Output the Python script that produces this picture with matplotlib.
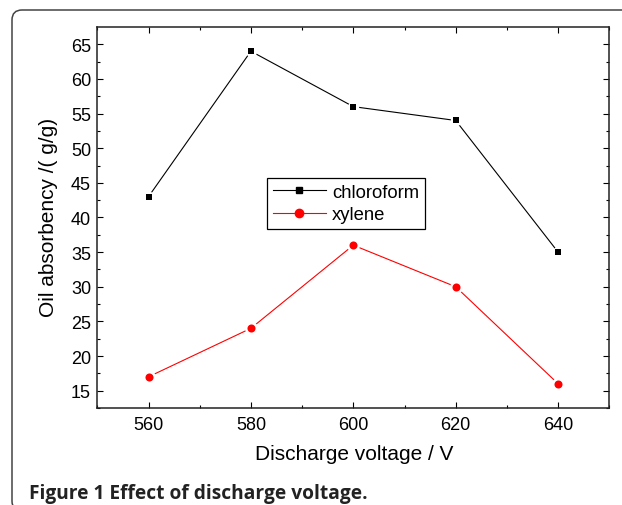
import matplotlib
matplotlib.use("Agg")
import matplotlib.pyplot as plt
from matplotlib.lines import Line2D
from matplotlib.patches import FancyBboxPatch
from matplotlib.transforms import IdentityTransform
from matplotlib.ticker import MultipleLocator

voltage = [560, 580, 600, 620, 640]
chloroform = [43, 64, 56, 54, 35]
xylene = [17, 24, 36, 30, 16]
xticks = [560, 580, 600, 620, 640]
yticks = [15, 20, 25, 30, 35, 40, 45, 50, 55, 60, 65]

plt.rcParams['font.family'] = ['Liberation Sans', 'DejaVu Sans']

W, H = 622, 506
fig = plt.figure(figsize=(W / 100, H / 100), dpi=100)
ax = fig.add_axes([97.3 / W, 1 - 409 / H, (609.3 - 97.3) / W, (409 - 28.3) / H])

# lines
ax.plot(voltage, chloroform, color='black', lw=0.8, zorder=2)
ax.plot(voltage, xylene, color='red', lw=0.8, zorder=2)
# white gaps around markers (Origin style)
ax.plot(voltage, chloroform, ls='none', marker='o', ms=8.2, mfc='white', mec='none', zorder=3)
ax.plot(voltage, xylene, ls='none', marker='o', ms=9.4, mfc='white', mec='none', zorder=3)
ax.plot(voltage, chloroform, ls='none', marker='s', ms=5.0, mfc='black', mec='black', mew=0, zorder=4)
ax.plot(voltage, xylene, ls='none', marker='o', ms=5.8, mfc='red', mec='red', mew=0, zorder=4)

ax.set_xlim(550, 650)
ax.set_ylim(12.5, 67.45)
ax.set_xticks(xticks)
ax.set_yticks(yticks)
ax.xaxis.set_minor_locator(MultipleLocator(10))
ax.yaxis.set_minor_locator(MultipleLocator(2.5))
ax.tick_params(which='both', direction='in', top=True, right=True, width=0.8,
               labelsize=13, colors='black')
ax.tick_params(which='major', length=4.5)
ax.tick_params(which='minor', length=2.5)
ax.tick_params(axis='y', pad=4.5)
ax.tick_params(axis='x', pad=6)
for s in ax.spines.values():
    s.set_linewidth(1.1)
    s.set_color('#222222')

fig.text(354 / W, 1 - 460 / H, 'Discharge voltage / V', ha='center', va='baseline', fontsize=15)
fig.text(49 / W, 1 - 217 / H, 'Oil absorbency /( g/g)', rotation=90, ha='center', va='center', fontsize=15)

handles = [Line2D([], [], color='black', lw=0.8, marker='s', ms=5, mfc='black', mec='black'),
           Line2D([], [], color='red', lw=0.8, marker='o', ms=6, mfc='red', mec='red')]
leg = fig.legend(handles, ['chloroform', 'xylene'], loc='upper left',
                 bbox_to_anchor=(267 / W, 1 - 179 / H), fontsize=13.3, fancybox=False,
                 edgecolor='black', framealpha=1, borderpad=0.32, labelspacing=0.28,
                 handlelength=2.85, handletextpad=0.35, borderaxespad=0)
leg.get_frame().set_linewidth(0.9)

fig.text(29 / W, 1 - 499 / H, 'Figure 1 Effect of discharge voltage.', ha='left', va='baseline',
         fontsize=13.8, fontweight='bold', family=['Open Sans', 'DejaVu Sans'], color='#222222')

frame = FancyBboxPatch((12, -6), 700, 495 + 6, boxstyle='round,pad=0,rounding_size=10',
                       transform=IdentityTransform(), fill=False, edgecolor='#444444', lw=1.1)
fig.patches.append(frame)

fig.savefig('out.png', dpi=100)
